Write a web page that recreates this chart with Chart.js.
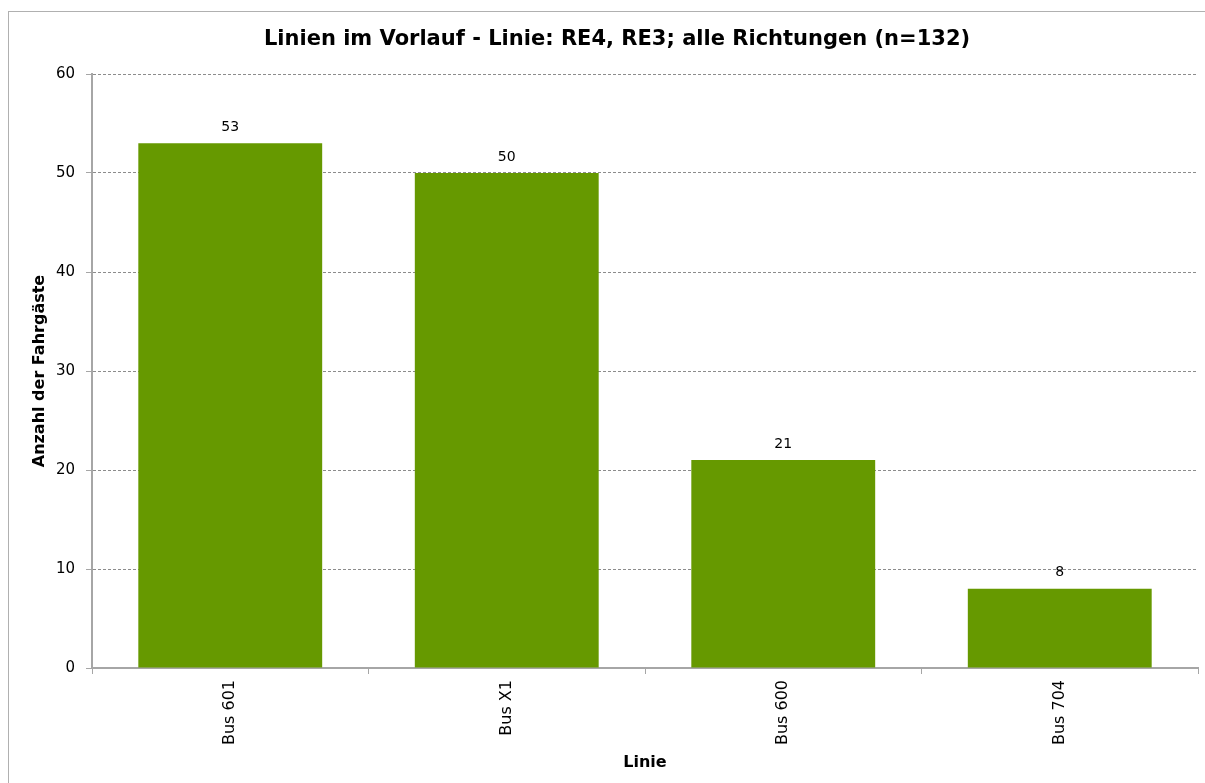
<!DOCTYPE html>
<html>
<head>
<meta charset="utf-8">
<script src="https://cdn.jsdelivr.net/npm/chart.js@4/dist/chart.umd.min.js"></script>
<style>
html,body{margin:0;padding:0;background:#fff;overflow:hidden;}
#wrap{position:relative;width:1205px;height:783px;}
</style>
</head>
<body>
<div id="wrap"><canvas id="c" width="1205" height="783"></canvas></div>
<script>
const categories = ["Bus 601", "Bus X1", "Bus 600", "Bus 704"];
const values = [53, 50, 21, 8];
const yTicks = [0, 10, 20, 30, 40, 50, 60];
const titleText = "Linien im Vorlauf - Linie: RE4, RE3; alle Richtungen (n=132)";
const xTitle = "Linie";
const yTitle = "Anzahl der Fahrgäste";

const FONT = "'DejaVu Sans', Tahoma, Verdana, sans-serif";
const AXIS = "#a6a6a6";

const frame = {
  id: 'frame',
  beforeDraw(chart) {
    const ctx = chart.ctx;
    ctx.save();
    ctx.fillStyle = '#fff';
    ctx.fillRect(0, 0, chart.width, chart.height);
    ctx.strokeStyle = '#b0b0b0';
    ctx.lineWidth = 1;
    ctx.strokeRect(8.5, 11.5, 1300, 900);
    // chart title, centred on the outer chart frame
    ctx.font = "bold 21px " + FONT;
    ctx.fillStyle = '#000';
    ctx.textAlign = 'center';
    ctx.textBaseline = 'middle';
    ctx.fillText(chart.options.plugins.customTitle.text, 617, 40);
    ctx.restore();
  }
};

const labels = {
  id: 'labels',
  afterDatasetsDraw(chart) {
    const ctx = chart.ctx;
    const meta = chart.getDatasetMeta(0);
    ctx.save();
    ctx.font = "14px " + FONT;
    ctx.fillStyle = '#000';
    ctx.textAlign = 'center';
    ctx.textBaseline = 'middle';
    meta.data.forEach((bar, i) => {
      ctx.fillText(String(chart.data.datasets[0].data[i]), bar.x, bar.y - 16);
    });
    ctx.restore();
  }
};

new Chart(document.getElementById('c'), {
  type: 'bar',
  data: {
    labels: categories,
    datasets: [{
      data: values,
      backgroundColor: '#669900',
      borderWidth: 0,
      barPercentage: 0.665,
      categoryPercentage: 1.0
    }]
  },
  options: {
    responsive: false,
    animation: false,
    devicePixelRatio: 1,
    layout: { padding: { left: 0, right: 7, top: 74, bottom: 0 } },
    plugins: {
      legend: { display: false },
      tooltip: { enabled: false },
      title: { display: false },
      customTitle: { text: titleText }
    },
    scales: {
      x: {
        offset: true,
        afterFit(scale) { scale.height = 115; },
        grid: { drawOnChartArea: false, drawTicks: true, tickLength: 6, offset: true, color: AXIS, tickColor: AXIS },
        border: { display: true, color: AXIS, width: 2 },
        ticks: { color: '#000', font: { family: FONT, size: 16 }, maxRotation: 90, minRotation: 90, padding: 6 },
        title: { display: true, text: xTitle, color: '#000', font: { family: FONT, size: 16, weight: 'bold', lineHeight: 1.2 }, padding: { top: 0, bottom: 11 } }
      },
      y: {
        min: 0, max: 60,
        afterFit(scale) { scale.width = 92; },
        afterBuildTicks(scale) { scale.ticks = yTicks.map(v => ({ value: v })); },
        grid: { color: '#8c8c8c', tickColor: AXIS, tickLength: 6, drawTicks: true, tickBorderDash: [] },
        border: { display: true, color: AXIS, width: 2, dash: [3, 2] },
        ticks: { color: '#000', font: { family: FONT, size: 15 }, padding: 11 },
        title: { display: true, text: yTitle, color: '#000', font: { family: FONT, size: 16, weight: 'bold', lineHeight: 1.2 }, padding: { top: 30, bottom: 0 } }
      }
    }
  },
  plugins: [frame, labels]
});
</script>
</body>
</html>
